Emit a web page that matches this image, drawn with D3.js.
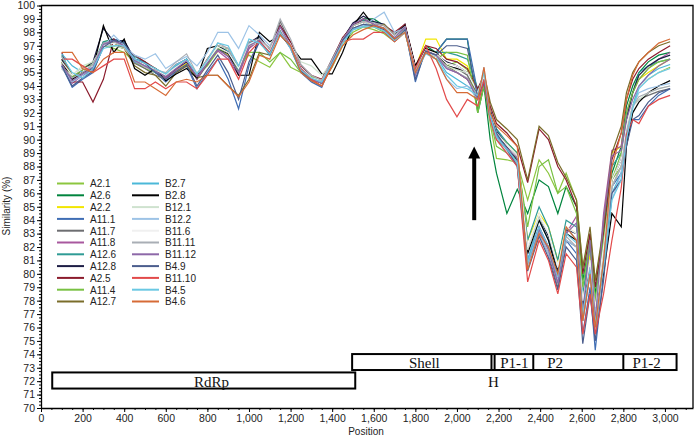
<!DOCTYPE html>
<html>
<head>
<meta charset="utf-8">
<script src="https://cdn.jsdelivr.net/npm/d3@7"></script>
<style>
body { margin: 0; background: #fff; }
svg { display: block; }
text { font-family: "Liberation Sans", Arial, sans-serif; }
</style>
</head>
<body>
<svg width="696" height="438"></svg>
<script>
// positions where similarity was sampled
const positions = [100,150,200,250,300,350,400,450,500,550,
	600,650,700,750,800,850,900,950,1000,1050,
	1100,1150,1200,1250,1300,1350,1400,1450,1500,1550,
	1600,1650,1700,1750,1800,1850,1900,1950,2000,2050,
	2100,2130,2160,2190,2240,2290,2340,2395,2440,2485,
	2525,2575,2605,2640,2665,2705,2745,2790,2815,2845,
	2875,2920,2970,3025];

const A2_1 = [95.5,94.8,95.3,95.8,97.0,96.8,96.5,95.8,95.3,95.0,
	94.8,95.3,95.6,94.8,95.5,96.6,96.8,95.5,96.3,95.8,
	95.4,96.5,95.4,95.0,94.6,94.3,95.4,97.0,98.0,98.4,
	98.2,97.9,97.3,98.0,95.2,96.5,96.0,95.5,95.8,95.2,
	92.4,94.0,91.2,88.6,88.5,88.3,85.5,88.5,87.5,86.0,
	87.5,85.5,80.5,83.0,79.5,83.0,87.0,88.0,90.5,92.5,
	94.0,94.5,95.0,95.4];
const A2_6 = [96.0,94.3,94.8,95.3,97.3,97.5,97.2,96.0,95.7,95.3,
	94.8,95.5,96.0,94.6,96.0,97.0,96.5,95.0,97.0,97.5,
	96.5,98.2,97.0,95.3,94.5,94.2,96.0,97.5,98.6,99.0,
	99.0,98.5,97.8,98.5,95.0,97.0,96.5,97.5,97.5,97.5,
	92.0,94.0,90.0,87.5,84.5,86.3,84.5,87.0,86.5,84.5,
	86.5,85.0,79.5,82.5,78.5,82.5,87.5,89.5,92.5,94.0,
	95.0,95.8,96.3,96.5];
const A2_2 = [95.8,94.6,95.0,95.5,97.2,97.2,97.0,95.8,95.5,95.0,
	94.6,95.2,95.7,94.5,95.7,96.8,96.3,95.2,97.0,97.3,
	96.3,98.3,97.0,95.2,94.5,94.3,95.8,97.3,98.5,98.8,
	98.5,98.4,97.8,98.4,95.3,97.5,97.5,96.0,96.0,95.5,
	93.5,94.5,92.0,90.5,89.8,89.0,82.5,84.5,83.5,81.0,
	83.5,83.0,78.0,81.5,77.5,84.0,89.0,89.5,91.5,93.5,
	94.5,95.0,95.5,96.0];
const A11_1 = [95.5,93.9,94.5,95.0,97.0,97.5,97.3,96.0,95.8,95.0,
	94.3,95.0,95.5,93.8,95.0,96.0,94.5,92.3,95.5,97.3,
	96.5,98.0,96.8,95.0,94.3,93.9,95.8,97.5,98.3,98.5,
	98.5,98.3,97.5,98.3,94.3,96.8,96.5,97.5,97.5,97.5,
	93.5,94.3,92.0,90.8,89.5,88.2,81.0,83.5,82.0,79.5,
	82.5,81.5,75.5,79.0,74.3,80.0,86.5,87.5,90.0,91.5,
	91.5,92.5,93.3,93.8];
const A11_7 = [95.3,94.5,95.0,95.3,97.0,97.0,96.8,95.7,95.3,94.8,
	94.5,95.3,96.0,94.5,95.6,96.8,96.2,95.0,96.8,97.5,
	96.5,98.8,97.2,95.5,94.5,94.2,95.8,97.3,98.5,98.8,
	98.6,98.3,97.6,98.3,95.0,96.5,96.3,95.5,95.3,94.8,
	93.0,94.3,91.5,90.0,89.3,88.5,80.5,83.0,81.5,79.0,
	82.5,82.0,76.5,80.0,75.5,81.0,86.5,88.0,90.5,92.5,
	93.0,93.3,93.6,93.8];
const A11_8 = [95.6,94.2,94.8,95.2,97.2,97.3,97.0,95.8,95.5,95.0,
	94.6,95.2,95.8,94.5,95.8,96.6,96.0,94.8,96.8,97.4,
	96.3,98.3,97.0,95.2,94.6,94.3,96.0,97.5,98.6,98.9,
	98.6,98.2,97.5,98.2,95.0,96.5,96.2,95.3,95.0,94.5,
	93.2,94.2,91.8,90.3,89.5,88.8,81.0,83.5,82.0,79.5,
	83.0,84.3,77.5,83.0,77.0,84.5,89.2,89.5,92.0,93.5,
	94.5,95.3,96.0,96.5];
const A12_6 = [96.3,94.8,95.3,95.6,97.3,97.2,97.0,96.2,95.8,95.2,
	94.9,95.5,96.0,94.8,95.8,96.8,96.5,95.2,97.2,97.6,
	96.6,98.3,97.2,95.4,94.6,94.4,96.0,97.5,98.6,98.9,
	98.8,98.5,97.8,98.5,95.0,96.8,96.5,96.5,96.3,96.0,
	93.8,94.5,92.2,90.8,89.8,89.0,82.5,85.0,83.5,81.0,
	84.0,83.5,78.5,82.0,78.0,83.0,88.0,89.0,91.5,93.5,
	95.0,95.5,95.8,96.0];
const A12_8 = [96.0,94.6,95.2,95.8,98.3,97.3,97.4,96.0,95.6,95.2,
	94.7,95.3,95.8,94.8,95.9,96.8,96.4,95.3,97.2,97.7,
	96.6,98.5,97.2,95.5,94.6,94.4,95.9,97.5,98.7,99.2,
	98.8,98.6,97.8,98.6,95.2,96.8,96.3,95.8,95.5,95.0,
	93.4,94.5,92.2,90.6,89.6,88.7,81.8,84.2,82.8,80.2,
	83.3,83.0,77.0,80.5,76.5,81.5,87.0,88.5,91.5,93.5,
	94.8,95.5,96.0,96.3];
const A2_5 = [96.5,94.3,94.3,92.8,94.5,97.5,96.8,96.3,95.8,95.3,
	94.8,95.6,96.0,94.8,96.0,97.0,96.8,95.3,97.3,97.5,
	96.8,98.5,97.3,95.5,94.8,94.5,96.0,97.6,98.5,99.0,
	98.6,98.5,98.0,98.6,95.5,97.0,96.8,96.0,95.8,95.3,
	93.8,94.8,92.5,91.2,90.5,89.5,86.8,90.8,90.0,88.0,
	87.0,85.0,80.0,83.0,79.0,83.0,88.5,90.5,93.0,94.5,
	95.3,96.0,96.5,97.0];
const A11_4 = [95.7,94.7,95.2,95.6,97.0,97.0,96.8,96.0,95.5,95.1,
	94.8,95.4,95.9,94.8,95.8,96.8,96.5,95.3,96.5,96.5,
	95.8,96.5,96.0,95.0,94.7,94.4,95.6,97.3,98.3,98.6,
	98.4,98.0,97.4,98.0,95.3,96.5,96.0,96.5,96.5,96.3,
	92.0,94.0,91.5,89.5,89.0,88.5,83.5,88.0,88.5,86.0,
	86.5,84.5,79.0,82.5,78.0,82.5,87.0,89.0,92.0,93.5,
	94.5,95.3,95.8,96.0];
const A12_7 = [96.2,94.8,95.3,95.5,97.0,97.2,96.8,95.5,95.0,94.8,
	94.0,95.0,95.5,94.6,94.8,94.8,94.0,93.3,94.5,96.5,
	96.3,98.0,97.0,95.3,94.6,94.2,95.6,97.3,98.2,98.6,
	98.5,98.6,97.8,98.3,95.3,96.8,96.5,95.5,95.0,94.5,
	93.5,95.0,92.8,91.5,90.8,90.0,87.0,91.0,90.3,88.3,
	87.2,85.5,80.5,83.5,79.5,83.5,89.0,91.0,93.5,95.0,
	95.8,96.5,97.0,97.3];
const B2_7 = [96.4,95.5,95.0,95.5,97.0,97.0,97.0,95.8,95.5,95.0,
	94.8,95.5,96.0,94.8,95.8,97.0,96.6,95.3,97.2,97.3,
	96.3,98.0,96.8,95.0,94.5,94.3,95.5,97.2,98.2,98.5,
	98.5,98.2,97.5,98.2,95.0,96.5,96.2,95.0,94.5,94.0,
	93.5,94.8,91.8,90.3,89.5,88.5,81.0,84.0,82.5,80.0,
	83.5,82.5,77.5,80.5,76.5,81.0,86.0,87.5,90.5,92.5,
	94.0,94.8,95.3,95.6];
const B2_8 = [95.8,94.5,95.0,95.3,98.5,96.5,97.5,95.3,94.8,95.3,
	94.4,94.9,95.3,94.6,96.8,97.0,96.5,94.8,94.8,98.0,
	97.3,97.8,97.0,96.0,96.0,94.9,94.9,96.5,98.5,99.5,
	98.5,98.3,97.5,98.5,95.5,96.8,96.5,95.5,95.3,95.0,
	93.5,94.5,92.0,90.5,89.5,88.5,81.5,84.0,82.5,80.0,
	83.0,82.5,77.5,80.5,77.5,80.0,84.5,83.5,89.5,92.0,
	92.8,93.5,94.0,94.4];
const B12_1 = [95.3,94.8,95.5,95.8,97.0,97.0,96.8,96.0,95.6,95.2,
	94.9,95.4,95.9,95.0,95.8,97.0,96.8,95.5,97.0,97.3,
	96.8,98.0,97.0,95.8,95.5,94.8,95.8,97.3,98.3,98.6,
	98.5,98.2,97.6,98.2,95.3,96.5,96.2,95.5,95.2,95.0,
	93.5,94.8,92.0,90.5,89.6,88.6,81.8,84.2,83.0,80.5,
	83.5,83.0,78.0,81.0,77.0,81.5,86.5,88.0,91.0,92.5,
	93.0,93.5,93.8,94.0];
const B12_2 = [95.4,94.3,94.8,95.5,97.0,97.8,97.0,96.3,96.0,96.4,
	95.3,95.8,96.2,95.5,96.5,98.0,98.0,96.8,98.5,97.8,
	97.0,98.3,96.8,95.3,94.5,94.3,95.8,97.3,98.3,98.5,
	99.0,99.5,98.0,98.3,95.3,96.5,96.0,94.5,93.8,94.0,
	93.0,95.4,91.5,90.0,89.0,88.0,80.5,83.0,81.5,79.5,
	82.5,82.0,77.0,80.5,76.5,80.5,85.5,87.5,90.5,92.5,
	93.5,93.8,94.0,94.2];
const B11_6 = [95.8,94.8,95.3,95.5,97.0,97.2,97.0,96.0,95.6,95.2,
	94.8,95.4,95.9,94.9,95.9,96.9,96.5,95.3,97.1,97.5,
	96.6,98.3,97.1,95.4,94.6,94.4,95.9,97.4,98.5,98.8,
	98.6,98.4,97.7,98.4,95.2,96.7,96.4,95.7,95.5,95.0,
	93.5,94.6,92.0,90.5,89.6,88.8,82.0,84.5,83.0,80.5,
	83.5,83.0,78.0,81.0,77.5,82.0,87.0,88.5,91.0,93.0,
	94.0,94.5,95.0,95.3];
const B11_11 = [95.5,94.6,95.0,95.6,97.2,97.3,96.9,95.9,95.4,95.2,
	95.0,95.8,96.4,94.9,96.0,97.2,96.8,95.5,97.3,97.5,
	96.8,99.0,97.5,95.6,94.8,94.4,96.0,97.5,98.5,98.8,
	98.7,98.5,97.8,98.4,95.2,96.6,96.3,95.4,95.0,94.6,
	93.2,94.5,91.6,90.2,89.2,88.2,80.8,83.2,81.8,79.2,
	82.8,82.0,76.5,80.0,75.8,81.0,86.5,88.0,90.5,92.5,
	93.2,93.5,93.8,94.0];
const B11_12 = [95.6,94.4,94.9,95.4,97.1,97.4,97.0,95.9,95.5,95.1,
	94.7,95.3,95.9,94.7,95.7,96.7,96.2,95.0,97.0,97.4,
	96.4,98.4,97.0,95.3,94.5,94.2,95.8,97.4,98.6,99.0,
	98.6,98.3,97.6,98.4,94.8,96.6,96.3,95.3,95.0,94.5,
	93.0,94.3,91.7,90.2,89.4,88.6,80.8,83.3,81.8,79.3,
	83.0,83.8,77.0,82.5,76.5,84.0,88.8,89.2,91.5,93.0,
	94.0,94.8,95.5,96.0];
const B4_9 = [95.5,94.0,94.6,95.1,96.9,97.4,97.2,96.0,95.7,95.0,
	94.5,95.1,95.6,94.0,95.2,96.3,95.0,93.0,95.8,97.3,
	96.4,98.0,96.9,95.1,94.4,94.0,95.7,97.4,98.3,98.6,
	98.5,98.2,97.4,98.2,94.5,96.6,96.3,97.0,97.0,96.8,
	93.2,94.2,91.8,90.5,89.3,88.0,80.2,82.8,81.2,78.8,
	82.0,81.0,74.8,78.5,75.0,79.5,86.0,87.0,89.5,91.5,
	91.8,92.8,93.5,93.8];
const B11_10 = [96.0,96.0,95.5,95.0,95.5,96.0,96.0,93.8,93.8,94.3,
	93.8,94.3,94.3,93.8,94.8,96.0,96.0,94.5,96.5,97.3,
	96.5,98.0,97.0,95.3,94.5,94.0,95.5,97.3,97.5,97.5,
	98.0,98.0,97.3,98.0,95.3,97.0,95.3,93.0,91.7,93.0,
	92.5,94.5,91.5,90.0,89.0,88.0,79.4,82.5,81.0,78.5,
	81.5,80.5,75.5,78.5,75.5,78.5,82.5,86.4,90.4,91.5,
	91.2,92.5,93.0,93.3];
const B4_5 = [96.2,95.0,94.6,95.3,96.8,97.0,97.0,96.0,95.7,95.3,
	94.9,95.6,96.0,94.9,95.9,97.2,97.0,95.5,97.5,97.2,
	96.4,98.0,96.9,95.2,94.6,94.3,95.7,97.2,98.2,98.4,
	98.4,98.1,97.4,98.0,95.0,96.4,96.0,94.8,94.0,93.8,
	93.3,95.0,91.8,90.2,89.3,88.3,80.8,83.5,82.0,79.8,
	83.0,82.3,77.0,80.3,76.3,80.5,85.5,87.0,90.0,92.3,
	93.8,94.5,95.0,95.3];
const B4_6 = [96.5,96.5,95.3,95.0,96.0,96.5,96.5,94.3,94.3,93.8,
	93.3,94.3,94.5,94.3,94.8,94.8,94.0,93.2,94.3,96.3,
	96.0,97.8,97.0,95.0,94.4,94.0,95.5,97.0,97.8,98.2,
	98.5,98.3,97.5,98.0,95.0,96.5,96.0,94.5,93.5,93.5,
	93.0,95.4,92.0,91.0,90.3,89.5,80.3,83.0,82.0,80.0,
	83.5,82.5,76.5,80.0,76.0,81.0,88.0,90.5,93.0,94.8,
	95.8,96.5,97.2,97.5];

const seriesNames = ['A2.1','A2.6','A2.2','A11.1','A11.7','A11.8','A12.6','A12.8','A2.5','A11.4','A12.7',
	'B2.7','B2.8','B12.1','B12.2','B11.6','B11.11','B11.12','B4.9','B11.10','B4.5','B4.6'];
const seriesValues = [A2_1,A2_6,A2_2,A11_1,A11_7,A11_8,A12_6,A12_8,A2_5,A11_4,A12_7,
	B2_7,B2_8,B12_1,B12_2,B11_6,B11_11,B11_12,B4_9,B11_10,B4_5,B4_6];
const seriesColors = ['#8cc63f','#00843d','#f2e600','#3f6db4','#6d6e71','#a8589e','#2f9b95','#1d1d45','#8b1b2c','#79c143','#7a6d2a',
	'#4bb8d8','#000000','#cfe2cf','#9dc3e6','#f0f0f0','#a9aeb5','#8d68a8','#4b5d8d','#e24a4a','#6ac8e3','#d66b36'];

// genome regions (positions and similarity band they sit in)
const genomeTop = {start: 1496, end: 3056, lo: 72.83, hi: 74.02};
const genomeDividers = [2166, 2181, 2367, 2800];
const genomeLabels = [
	{text: 'Shell', pos: 1843, val: 73.0},
	{text: 'P1-1', pos: 2276, val: 73.0},
	{text: 'P2', pos: 2472, val: 73.0},
	{text: 'P1-2', pos: 2912, val: 73.0},
	{text: 'H', pos: 2175, val: 71.6},
	{text: 'RdRp', pos: 820, val: 71.6}
];
const rdrp = {start: 54, end: 1511, lo: 71.45, hi: 72.65};
const arrow = {pos: 2083, from: 84.0, to: 89.5};

const svg = d3.select('svg');
const x = d3.scaleLinear().domain([0, 3135]).range([41, 693]);
const y = d3.scaleLinear().domain([70, 100]).range([408, 5.5]);

// frame top/right
svg.append('path')
	.attr('d', `M${x(0)},${y(100)}H${x(3135)}V${y(70)}`)
	.attr('fill', 'none').attr('stroke', '#000').attr('stroke-width', 1.3);

// minor ticks
svg.append('g').attr('transform', `translate(${x(0)},0)`)
	.call(d3.axisLeft(y).tickValues(d3.range(70, 100.01, 0.25)).tickSize(2).tickFormat(''))
	.call(g => g.select('.domain').remove());
svg.append('g').attr('transform', `translate(0,${y(70)})`)
	.call(d3.axisBottom(x).tickValues(d3.range(0, 3135, 50)).tickSize(2).tickFormat(''))
	.call(g => g.select('.domain').remove());

const yAxis = svg.append('g').attr('transform', `translate(${x(0)},0)`)
	.call(d3.axisLeft(y).tickValues(d3.range(70, 101)).tickSize(4).tickSizeOuter(0).tickPadding(2).tickFormat(d3.format('d')));
const xAxis = svg.append('g').attr('transform', `translate(0,${y(70)})`)
	.call(d3.axisBottom(x).tickValues(d3.range(0, 3001, 200)).tickSize(4).tickSizeOuter(0).tickPadding(3).tickFormat(d3.format(',')));
[yAxis, xAxis].forEach(g => {
	g.selectAll('text').attr('font-size', 10.5).attr('fill', '#222').style('font-family', '"Liberation Sans", Arial, sans-serif');
	g.select('.domain').attr('stroke-width', 1.3);
});

svg.append('text').attr('x', 366).attr('y', 435).attr('text-anchor', 'middle')
	.attr('font-size', 10).attr('fill', '#222').text('Position');
svg.append('text').attr('transform', 'translate(10,206) rotate(-90)').attr('text-anchor', 'middle')
	.attr('font-size', 10).attr('fill', '#222').text('Similarity  (%)');

// similarity lines
const line = d3.line().x((d, i) => x(positions[i])).y(d => y(d));
svg.append('g').selectAll('path.series')
	.data(seriesValues).enter().append('path')
	.classed('series', true)
	.attr('d', line)
	.attr('fill', 'none')
	.attr('stroke', (d, i) => seriesColors[i])
	.attr('stroke-width', 1.2)
	.attr('stroke-linejoin', 'miter');

// genome map
const gm = svg.append('g').attr('fill', '#fff').attr('stroke', '#000').attr('stroke-width', 2);
gm.append('rect')
	.attr('x', x(rdrp.start)).attr('y', y(rdrp.hi))
	.attr('width', x(rdrp.end) - x(rdrp.start)).attr('height', y(rdrp.lo) - y(rdrp.hi));
gm.append('rect')
	.attr('x', x(genomeTop.start)).attr('y', y(genomeTop.hi))
	.attr('width', x(genomeTop.end) - x(genomeTop.start)).attr('height', y(genomeTop.lo) - y(genomeTop.hi));
gm.selectAll('line').data(genomeDividers).enter().append('line')
	.attr('x1', d => x(d)).attr('x2', d => x(d))
	.attr('y1', y(genomeTop.hi)).attr('y2', y(genomeTop.lo));
svg.append('g').selectAll('text').data(genomeLabels).enter().append('text')
	.attr('x', d => x(d.pos)).attr('y', d => y(d.val))
	.attr('text-anchor', 'middle')
	.attr('font-size', 15)
	.style('font-family', '"Liberation Serif", "Times New Roman", serif')
	.attr('fill', '#111')
	.text(d => d.text);

// arrow
svg.append('line')
	.attr('x1', x(arrow.pos)).attr('x2', x(arrow.pos))
	.attr('y1', y(arrow.from)).attr('y2', y(arrow.to) + 10)
	.attr('stroke', '#000').attr('stroke-width', 4);
svg.append('path')
	.attr('d', `M${x(arrow.pos)},${y(arrow.to)} l-6,12 h12 z`)
	.attr('fill', '#000');

// legend
const legend = svg.append('g');
seriesNames.forEach((name, i) => {
	const col = Math.floor(i / 11), row = i % 11;
	const lx = 57 + col * 75, ly = 183.5 + row * 11.8;
	legend.append('line').attr('x1', lx).attr('x2', lx + 27).attr('y1', ly).attr('y2', ly)
		.attr('stroke', seriesColors[i]).attr('stroke-width', 2);
	legend.append('text').attr('x', lx + 33).attr('y', ly + 3.8)
		.attr('font-size', 10).attr('fill', '#222').text(name);
});
</script>
</body>
</html>
